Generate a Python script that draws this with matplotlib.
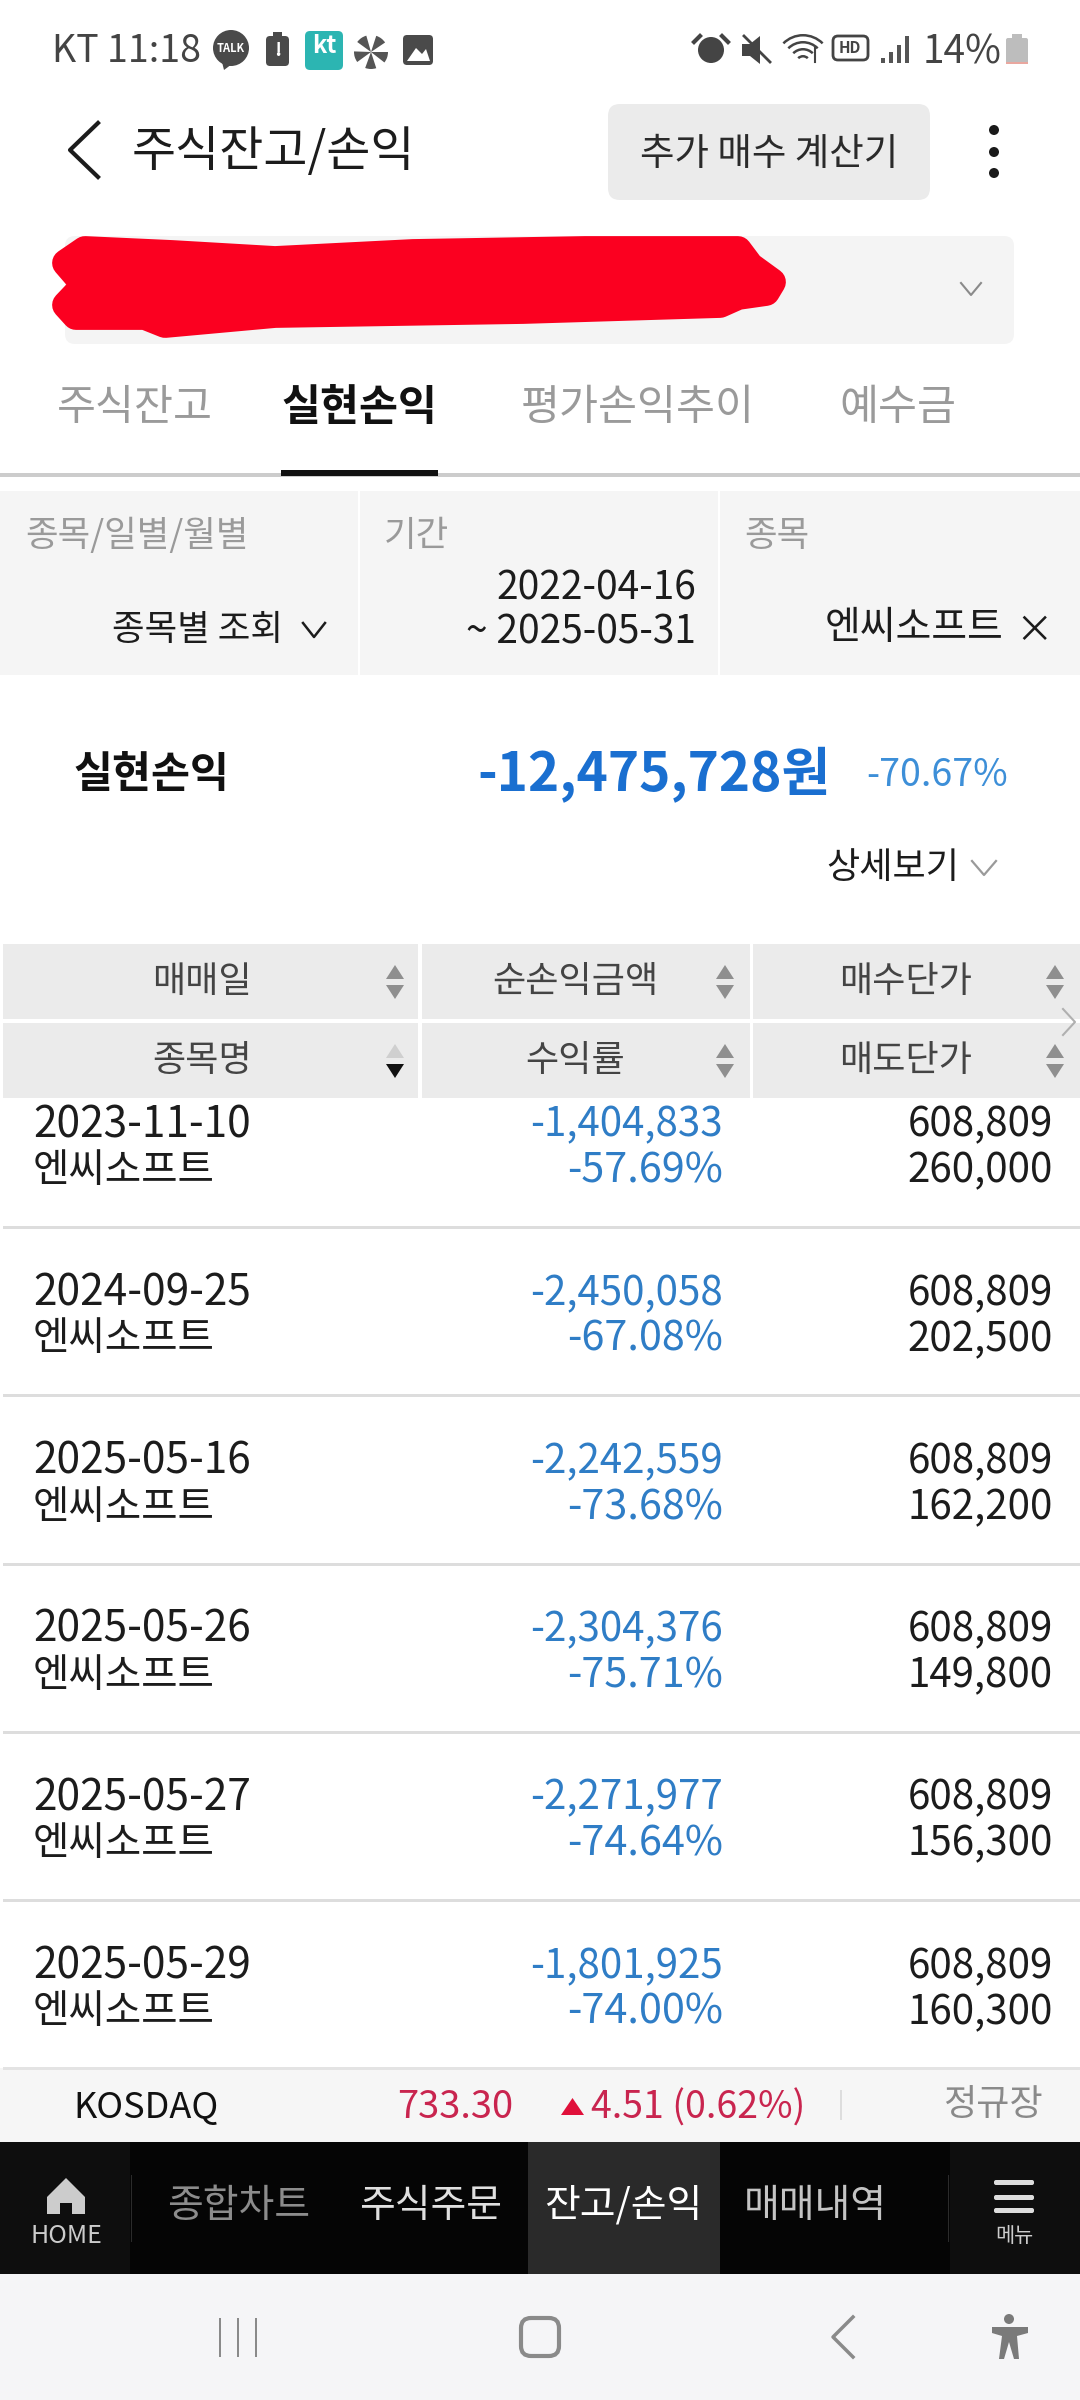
import matplotlib
matplotlib.use('Agg')
import matplotlib.pyplot as plt
from matplotlib.patches import Rectangle, FancyBboxPatch, Polygon, Circle, Wedge

plt.rcParams['font.family'] = ['Noto Sans CJK KR', 'DejaVu Sans']

# table rows
dates = ['2023-11-10', '2024-09-25', '2025-05-16', '2025-05-26', '2025-05-27', '2025-05-29']
pnl = ['-1,404,833', '-2,450,058', '-2,242,559', '-2,304,376', '-2,271,977', '-1,801,925']
rates = ['-57.69%', '-67.08%', '-73.68%', '-75.71%', '-74.64%', '-74.00%']
buy_price = ['608,809'] * 6
sell_price = ['260,000', '202,500', '162,200', '149,800', '156,300', '160,300']
stock_name = '엔씨소프트'

tabs = ['주식잔고', '실현손익', '평가손익추이', '예수금']
tab_x = [135, 359, 638, 898]
headers_top = ['매매일', '순손익금액', '매수단가']
headers_bottom = ['종목명', '수익률', '매도단가']
nav_labels = ['종합차트', '주식주문', '잔고/손익', '매매내역']
nav_x = [239, 431, 623, 815]
nav_colors = ['#8c8c8c', '#e0e0e0', '#ffffff', '#c4c4c4']

BLUE = '#2f7dc6'
GREY = '#9a9a9a'
INK = '#1c1c1c'

fig = plt.figure(figsize=(10.8, 24), dpi=100)
ax = fig.add_axes([0, 0, 1, 1])
ax.set_xlim(0, 1080)
ax.set_ylim(2400, 0)
ax.axis('off')


def txt(x, y, s, size, color=INK, ha='left', weight='normal'):
    # the CJK font sits a little high with va=center
    ax.text(x, y + 8, s, fontsize=size, color=color, ha=ha, va='center', fontweight=weight)


def box(x0, y0, x1, y1, color):
    ax.add_patch(Rectangle((x0, y0), x1 - x0, y1 - y0, fc=color, ec='none'))


def rbox(x0, y0, x1, y1, r, color, ec='none', lw=0):
    ax.add_patch(FancyBboxPatch((x0 + r, y0 + r), x1 - x0 - 2 * r, y1 - y0 - 2 * r,
                                boxstyle='round,pad=%d' % r, fc=color, ec=ec, lw=lw))


def chevron(x, y, w, h, color, lw=2, direction='down'):
    if direction == 'down':
        ax.plot([x - w, x, x + w], [y - h, y + h, y - h], color=color, lw=lw)
    elif direction == 'left':
        ax.plot([x + w, x - w, x + w], [y - h, y, y + h], color=color, lw=lw)
    else:
        ax.plot([x - w, x + w, x - w], [y - h, y, y + h], color=color, lw=lw)


def sort_arrows(x, y, up='#8f8f8f', down='#8f8f8f'):
    ax.add_patch(Polygon([(x - 9, y - 3), (x + 9, y - 3), (x, y - 17)], fc=up, ec='none'))
    ax.add_patch(Polygon([(x - 9, y + 3), (x + 9, y + 3), (x, y + 17)], fc=down, ec='none'))


# status bar
txt(52, 44, 'KT 11:18', 27, '#444444')
ax.add_patch(Circle((231, 48), 18, fc='#4a4a4a'))
ax.add_patch(Polygon([(222, 62), (232, 64), (224, 70)], fc='#4a4a4a', ec='none'))
ax.text(231, 49, 'TALK', fontsize=8, color='white', ha='center', va='center', fontweight='bold')
rbox(266, 36, 289, 66, 4, '#4a4a4a')
box(273, 32, 282, 37, '#4a4a4a')
ax.text(277.5, 51, '!', fontsize=14, color='white', ha='center', va='center', fontweight='bold')
rbox(305, 31, 343, 70, 5, '#2cb5b2')
ax.text(324, 46, 'kt', fontsize=17, color='white', ha='center', va='center', fontweight='bold')
for a in range(0, 360, 72):
    ax.add_patch(Wedge((371, 52), 17, a, a + 38, fc='#555555'))
rbox(403, 35, 433, 65, 4, '#4a4a4a')
ax.add_patch(Polygon([(407, 61), (416, 48), (422, 54), (426, 49), (430, 61)], fc='white', ec='none'))

ax.add_patch(Circle((711, 50), 13, fc='#444444'))
ax.plot([700, 694], [36, 42], color='#444444', lw=3)
ax.plot([722, 728], [36, 42], color='#444444', lw=3)
ax.add_patch(Polygon([(742, 44), (750, 44), (760, 36), (760, 64), (750, 56), (742, 56)], fc='#444444', ec='none'))
ax.plot([744, 770], [36, 62], color='#444444', lw=2)
for r in [8, 15, 22, 29]:
    ax.add_patch(Wedge((803, 63), r, 225, 315, width=2.5, fc='#444444'))
ax.plot([815, 815], [48, 62], color='#444444', lw=1.5)
rbox(833, 36, 868, 60, 5, 'white', ec='#444444', lw=2)
ax.text(850, 48, 'HD', fontsize=11, color='#444444', ha='center', va='center', fontweight='bold')
for i, h in enumerate([5, 11, 18, 27]):
    box(881 + i * 8, 63 - h, 885 + i * 8, 63, '#555555')
txt(923, 44, '14%', 28, '#444444')
rbox(1006, 38, 1028, 64, 2, '#bdbdbd')
box(1012, 34, 1022, 38, '#bdbdbd')
box(1006, 62, 1028, 64, '#e9a79f')

# title row
chevron(84, 150, 14, 27, INK, lw=3, direction='left')
txt(132, 144, '주식잔고/손익', 34.5, INK)
rbox(608, 104, 930, 200, 12, '#ebebeb')
txt(769, 146, '추가 매수 계산기', 27, '#2a2a2a', 'center', 'medium')
for y in [130, 152, 173]:
    ax.add_patch(Circle((994, y), 5, fc='#1a1a1a'))

# account box, scribbled over in red
rbox(65, 236, 1014, 344, 10, '#f4f4f4')
scribble = [(85, 250), (172, 254), (275, 260), (413, 253), (585, 250), (738, 250),
            (750, 266), (772, 282), (766, 292), (738, 296), (720, 304), (523, 310),
            (275, 314), (165, 324), (145, 316), (76, 316), (66, 305), (85, 285), (66, 263)]
ax.add_patch(Polygon(scribble, fc='#fb0020', ec='#fb0020', lw=20, joinstyle='round'))
chevron(971, 289, 10, 6, '#8a8a8a', lw=1.5)

# tabs
for i, (label, x) in enumerate(zip(tabs, tab_x)):
    selected = i == 1
    txt(x, 400, label, 30.5, '#111111' if selected else GREY, 'center', 'bold' if selected else 'medium')
box(0, 473, 1080, 477, '#cccccc')
box(281, 470, 438, 476, '#111111')

# filter block
box(0, 491, 1080, 675, '#f5f5f5')
box(358, 491, 360, 675, 'white')
box(718, 491, 720, 675, 'white')
txt(25, 528, '종목/일별/월별', 25.5, GREY)
txt(384, 528, '기간', 25.5, GREY)
txt(744, 528, '종목', 25.5, GREY)
txt(283, 622, '종목별 조회', 25.5, INK, 'right')
chevron(314, 630, 11, 7, INK, lw=1.8)
txt(696, 581, '2022-04-16', 28, INK, 'right')
txt(696, 625, '~ 2025-05-31', 28, INK, 'right')
txt(1003, 620, stock_name, 28, INK, 'right')
txt(1034, 624, '×', 27, INK, 'center')

# realized total
txt(73, 767, '실현손익', 30.5, '#111111', weight='bold')
txt(831, 767, '-12,475,728원', 38.2, '#1a6fd0', 'right', 'bold')
txt(1008, 768, '-70.67%', 27, '#3d8fd8', 'right')
txt(959, 860, '상세보기', 26, INK, 'right')
chevron(984, 868, 12, 7, '#9a9a9a', lw=1.6)

# table header
columns = [(3, 418), (422, 750), (753, 1080)]
header_cx = [202, 575, 906]
arrow_x = [395, 725, 1055]
for (x0, x1), cx, ax_x, top, bottom in zip(columns, header_cx, arrow_x, headers_top, headers_bottom):
    box(x0, 944, x1, 1019, '#ebebeb')
    box(x0, 1023, x1, 1098, '#ebebeb')
    txt(cx, 974, top, 26, '#444444', 'center')
    txt(cx, 1053, bottom, 26, '#444444', 'center')
    sort_arrows(ax_x, 982)
    if bottom == '종목명':
        sort_arrows(ax_x, 1061, up='#cfcfcf', down='#111111')
    else:
        sort_arrows(ax_x, 1061)
chevron(1069, 1022, 6, 13, '#b0b0b0', lw=1.5, direction='right')

# table rows
for i in range(len(dates)):
    y0 = 1117 + i * 168.3
    y1 = y0 + 46
    txt(33, y0, dates[i], 30.5, INK)
    txt(33, y1, stock_name, 28.5, INK)
    txt(723, y0, pnl[i], 29, BLUE, 'right')
    txt(723, y1, rates[i], 29.8, BLUE, 'right')
    txt(1053, y0, buy_price[i], 29, INK, 'right')
    txt(1053, y1, sell_price[i], 29, INK, 'right')
    if i < len(dates) - 1:
        box(3, y0 + 109, 1080, y0 + 112, '#dddddd')

# index ticker
box(0, 2068, 1080, 2142, '#f6f6f6')
box(3, 2067, 1080, 2070, '#e3e3e3')
txt(73, 2100, 'KOSDAQ', 26, '#111111', weight='medium')
txt(513, 2100, '733.30', 27.5, '#c9254f', 'right')
ax.add_patch(Polygon([(561, 2115), (584, 2115), (572.5, 2098)], fc='#e0103a', ec='none'))
txt(591, 2100, '4.51 (0.62%)', 27, '#c9254f')
box(840, 2090, 842, 2120, '#dddddd')
txt(1043, 2097, '정규장', 26, '#8a8a8a', 'right')

# bottom menu
box(0, 2142, 1080, 2274, '#050505')
box(0, 2142, 130, 2274, '#0e0e0e')
box(950, 2142, 1080, 2274, '#0e0e0e')
box(528, 2142, 720, 2274, '#2a2a2a')
box(131, 2175, 132, 2242, '#2b2b2b')
box(948, 2175, 949, 2242, '#2b2b2b')
ax.add_patch(Polygon([(66, 2178), (85, 2197), (85, 2214), (72, 2214), (72, 2203), (60, 2203),
                      (60, 2214), (47, 2214), (47, 2197)], fc='#cccccc', ec='none'))
txt(66, 2228, 'HOME', 18, '#cccccc', 'center', 'medium')
for label, x, c in zip(nav_labels, nav_x, nav_colors):
    txt(x, 2198, label, 28, c, 'center', 'medium')
for y in [2182, 2197, 2210]:
    rbox(994, y - 2, 1034, y + 3, 2, '#dddddd')
txt(1014, 2228, '메뉴', 15, '#cccccc', 'center')

# android nav bar
box(0, 2274, 1080, 2400, '#f5f5f7')
for x in [220, 238, 256]:
    box(x - 1, 2318, x + 1, 2357, '#8a8a8a')
rbox(521, 2318, 559, 2356, 10, 'none', ec='#8a8a8a', lw=3)
chevron(843, 2337, 10, 20, '#8a8a8a', lw=2.5, direction='left')
ax.add_patch(Circle((1009, 2319), 5, fc='#7a7a7a'))
ax.add_patch(Polygon([(992, 2327), (1028, 2327), (1028, 2333), (1017, 2336), (1019, 2359),
                      (1014, 2359), (1009, 2342), (1004, 2359), (999, 2359), (1002, 2336), (992, 2333)],
                     fc='#7a7a7a', ec='none'))

fig.savefig('out.png', dpi=100, facecolor='white')
